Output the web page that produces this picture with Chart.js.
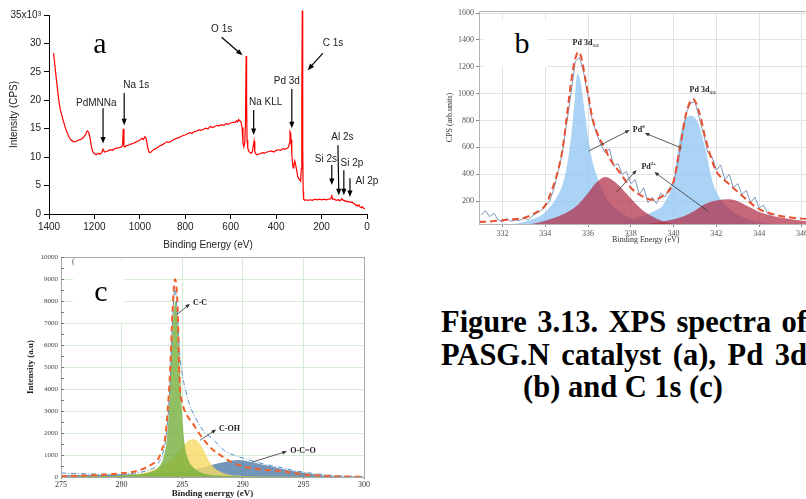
<!DOCTYPE html>
<html>
<head>
<meta charset="utf-8">
<script src="https://cdn.jsdelivr.net/npm/chart.js@4.4.0/dist/chart.umd.min.js"></script>
<style>
html, body { margin:0; padding:0; width:806px; height:499px; overflow:hidden; background:#fff; }
canvas { position:absolute; }
.big { position:absolute; width:40px; text-align:center; font-family:'Liberation Serif', serif; font-size:30px; line-height:30px; color:#000; }
.box { position:absolute; background:#fff; }
.cap { position:absolute; left:441px; width:366px; font:bold 30.5px 'Liberation Serif', serif; line-height:33px; white-space:nowrap; color:#000; }
.just { text-align:justify; text-align-last:justify; }
.mid { text-align:center; text-align-last:center; left:406px; width:434px; }
</style>
</head>
<body>
<canvas id="chartA" width="392" height="255" style="left:0;top:0"></canvas>
<canvas id="chartB" width="390" height="255" style="left:440px;top:0"></canvas>
<canvas id="chartC" width="380" height="249" style="left:0;top:250px"></canvas>

<div class="big" style="left:80px;top:28px">a</div>
<div class="box" style="left:483px;top:20px;width:64px;height:47px"></div>
<div class="big" style="left:502px;top:28px">b</div>
<div class="box" style="left:73px;top:260px;width:52px;height:63px"></div>
<div style="position:absolute;left:72px;top:257px;font:8px 'Liberation Serif',serif;color:#555">(</div>
<div class="big" style="left:81px;top:276px">c</div>

<div class="cap just" style="top:306px">Figure 3.13. XPS spectra of</div>
<div class="cap just" style="top:339px">PASG.N catalyst (a), Pd 3d</div>
<div class="cap mid" style="top:371px">(b) and C 1s (c)</div>

<script>
// ---- (a) survey spectrum, counts in thousands ----
var surveyEnergy = [1380,1375,1370,1365,1360,1355,1350,1345,1340,1335,1330,1325,1320,1315,1310,1305,1300,1290,1280,1270,1260,1250,1240,1232,1226,1220,1214,1208,1200,1192,1184,1176,1168,1162,1156,1148,1140,1130,1120,1110,1100,1090,1080,1076,1073,1070,1066,1060,1050,1040,1030,1020,1010,1000,992,985,978,972,966,960,954,946,940,930,920,910,900,890,880,870,860,850,840,830,820,810,800,790,780,770,760,750,740,730,720,710,700,690,680,670,660,650,640,630,620,610,600,590,580,575,570,565,560,555,550,546,542,538,535,532,530,528,525,520,515,510,505,500,497,494,490,485,480,470,460,450,440,430,420,410,400,390,380,370,360,350,345,341,339,336,334,331,328,325,322,318,315,310,305,300,296,292,289,287,285,283,281,279,275,270,260,250,240,230,220,210,200,190,180,170,160,155,152,145,135,125,120,115,110,105,100,95,90,85,80,75,70,65,60,55,50,45,40,35,30,25,20,15,10];
var surveyCounts = [28.3,26.5,24.6,22.8,21.0,19.5,18.3,17.6,16.8,16.1,15.4,14.8,14.3,13.8,13.4,13.1,12.9,12.7,12.8,13.0,13.1,13.4,13.9,14.6,14.4,13.5,12.0,11.0,10.6,10.4,10.7,10.5,10.8,11.4,10.9,11.0,11.1,11.3,11.2,11.5,11.6,11.7,11.8,12.2,15.0,11.9,11.8,12.0,12.1,12.3,12.4,12.6,12.8,13.0,13.3,13.1,13.6,13.2,11.8,10.9,10.8,11.1,11.3,11.5,11.8,12.0,12.2,12.5,12.7,12.6,12.9,13.1,13.3,13.4,13.6,13.8,13.9,14.1,14.3,14.2,14.5,14.6,14.8,14.7,14.9,15.1,15.0,15.4,15.2,15.4,15.6,15.5,15.7,15.6,15.9,15.8,16.0,16.1,16.1,16.4,16.2,16.6,16.4,16.2,15.2,12.5,11.8,12.6,16.0,27.8,20.0,13.0,11.6,11.0,10.8,10.7,10.9,12.2,12.8,11.0,10.6,10.4,10.5,10.6,10.8,10.7,10.9,11.0,11.1,10.9,11.2,11.3,11.2,11.5,11.4,11.6,11.8,12.5,14.5,14.2,13.0,10.5,9.0,8.1,8.5,9.3,8.8,7.8,6.6,6.2,6.0,5.8,8.0,20.0,35.8,12.0,4.0,2.6,2.4,2.5,2.4,2.5,2.4,2.6,2.5,2.6,2.5,2.6,2.5,2.6,2.7,3.2,2.6,2.6,2.4,2.5,2.3,2.5,2.7,2.4,2.4,2.2,2.3,2.1,2.2,2.1,2.0,2.1,1.9,1.8,1.5,1.6,1.4,1.6,1.2,1.1,1.3,1.0,0.9];

// ---- (b) Pd 3d region ----
var pdTicksX = [332,334,336,338,340,342,344,346];
var pdTicksY = [200,400,600,800,1000,1200,1400,1600];
var pdRawE = [331.0,331.2,331.4,331.6,331.8,332.0,332.2,332.4,332.6,332.8,333.0,333.2,333.4,333.6,333.8,334.0,334.2,334.4,334.6,334.8,335.0,335.2,335.4,335.6,335.8,336.0,336.2,336.4,336.6,336.8,337.0,337.2,337.4,337.6,337.8,338.0,338.2,338.4,338.6,338.8,339.0,339.2,339.4,339.6,339.8,340.0,340.2,340.4,340.6,340.8,341.0,341.2,341.4,341.6,341.8,342.0,342.2,342.4,342.6,342.8,343.0,343.2,343.4,343.6,343.8,344.0,344.2,344.4,344.6];
var pdRawV = [95,130,85,110,60,45,70,50,60,55,75,60,90,110,130,160,200,290,420,560,780,1000,1240,1270,1150,980,800,700,620,560,590,460,480,400,420,330,360,250,300,190,230,180,260,230,300,330,480,680,860,930,940,820,700,560,530,430,470,360,400,300,330,250,280,190,230,150,170,110,90];
var pdEnvE = [330.9,331.5,332,332.5,333,333.5,334,334.3,334.6,334.8,335,335.2,335.4,335.55,335.7,335.85,336,336.2,336.5,336.8,337,337.5,338,338.5,339,339.5,340,340.3,340.6,340.9,341.2,341.5,341.8,342,342.5,343,343.5,344,344.5,345,346,346.5];
var pdEnvV = [45,50,58,65,75,110,170,280,430,580,820,1080,1260,1310,1260,1130,1000,820,680,590,520,410,300,240,210,240,350,600,860,960,860,660,500,420,340,270,200,140,110,90,70,65];
var pd0aE = [331,332,332.5,333,333.5,334,334.5,334.8,335,335.2,335.35,335.5,335.65,335.8,336,336.2,336.5,336.8,337,337.5,338,339,340,342,346.5];
var pd0aV = [12,20,30,45,70,120,220,320,450,670,910,1150,1090,920,680,500,350,240,190,120,75,35,18,8,3];
var pd0bE = [331,334,336,337,338,338.5,339,339.5,339.8,340,340.2,340.4,340.6,340.8,341.0,341.2,341.5,341.8,342.1,342.5,343,343.5,344,345,346.5];
var pd0bV = [5,12,25,35,60,85,120,170,260,360,580,760,820,835,820,760,580,360,240,160,100,65,45,25,12];
var pd2aE = [331,332,333,334,334.5,335,335.5,336,336.4,336.8,337.2,337.6,338,338.5,339,339.5,340,341,342,346.5];
var pd2aV = [5,10,20,55,80,115,170,260,340,380,350,290,220,140,85,50,30,15,8,2];
var pd2bE = [338,339,339.7,340.5,341,341.5,342,342.6,343,343.5,344,344.5,345,346,346.5];
var pd2bV = [15,35,55,90,130,180,205,215,200,160,120,95,78,55,48];

// ---- (c) C 1s region ----
var cRawE = [275,276,277,278,279,280,281,282,283,283.5,283.8,284,284.2,284.4,284.6,284.8,285,285.3,285.6,286,286.5,287,287.5,288,288.5,289,290,291,292,293,294,295,296,297,298,299,300];
var cRawV = [180,160,150,130,120,130,170,280,600,1300,2500,4300,7000,8600,7400,5600,4700,3900,3300,2800,2300,1950,1750,1450,1200,1050,860,700,560,450,320,220,150,90,50,30,20];
var cEnvE = [275,276,277,278,279,280,281,281.5,282,282.5,283,283.3,283.6,283.8,284,284.2,284.4,284.6,284.8,285,285.4,285.8,286.5,287,287.5,288,288.5,289,290,291,292,293,294,295,296,297,298,300];
var cEnvV = [40,55,70,90,120,170,240,315,420,580,800,1200,1800,3000,4800,7500,9000,8000,4200,3400,2800,2500,1900,1550,1250,1050,860,700,480,380,320,280,200,120,75,45,25,10];
var ccE = [275,278,280,281,282,282.5,283,283.4,283.7,283.9,284.1,284.3,284.45,284.6,284.8,285,285.2,285.5,286,286.5,287,288,290,300];
var ccV = [20,40,70,100,170,250,420,800,1600,3000,5500,7500,8000,7300,5000,2800,1500,800,400,220,130,70,30,5];
var cohE = [275,279,280,281,282,283,284,284.5,285,285.5,285.9,286.3,286.7,287,287.5,288,288.5,289,290,292,300];
var cohV = [0,30,60,110,220,420,750,1000,1350,1650,1720,1620,1300,950,500,280,160,90,50,15,0];
var ocoE = [275,278,280,282,283,284,285,286,287,288,289,289.6,290.2,291,292,293,294,295,296,297,298,300];
var ocoV = [80,100,120,150,180,230,290,360,480,620,740,770,740,650,520,400,280,190,110,55,25,5];

Chart.defaults.animation = false;
Chart.defaults.responsive = false;
Chart.defaults.devicePixelRatio = 1;
Chart.defaults.plugins.legend.display = false;
Chart.defaults.plugins.tooltip.enabled = false;
Chart.defaults.elements.point.radius = 0;

function pts(xs, ys) {
    return xs.map(function (x, i) { return { x: x, y: ys[i] }; });
}

function plain(v) { return String(v); }

function drawArrow(ctx, x1, y1, x2, y2, head, color, lw) {
    var ang = Math.atan2(y2 - y1, x2 - x1);
    ctx.strokeStyle = color;
    ctx.fillStyle = color;
    ctx.lineWidth = lw;
    ctx.beginPath();
    ctx.moveTo(x1, y1);
    ctx.lineTo(x2 - Math.cos(ang) * head * 0.8, y2 - Math.sin(ang) * head * 0.8);
    ctx.stroke();
    ctx.beginPath();
    ctx.moveTo(x2, y2);
    ctx.lineTo(x2 - head * Math.cos(ang - 0.38), y2 - head * Math.sin(ang - 0.38));
    ctx.lineTo(x2 - head * Math.cos(ang + 0.38), y2 - head * Math.sin(ang + 0.38));
    ctx.closePath();
    ctx.fill();
}

// peak labels and arrows, given in data units
var notesPlugin = {
    id: 'notes',
    afterDatasetsDraw: function (chart, args, o) {
        var ctx = chart.ctx, sx = chart.scales.x, sy = chart.scales.y;
        ctx.save();
        (o.arrows || []).forEach(function (a) {
            drawArrow(ctx, sx.getPixelForValue(a[0]), sy.getPixelForValue(a[1]),
                sx.getPixelForValue(a[2]), sy.getPixelForValue(a[3]), o.head, o.color, o.width);
        });
        ctx.textBaseline = 'middle';
        ctx.textAlign = 'left';
        (o.labels || []).forEach(function (l) {
            var x = sx.getPixelForValue(l.x), y = sy.getPixelForValue(l.y);
            ctx.font = o.font;
            var w1 = ctx.measureText(l.text).width, w2 = 0;
            var extra = l.sub || l.sup;
            if (extra) { ctx.font = o.smallFont; w2 = ctx.measureText(extra).width; }
            var left = x - (w1 + w2) / 2;
            ctx.fillStyle = o.textColor;
            ctx.font = o.font;
            ctx.fillText(l.text, left, y);
            if (extra) {
                ctx.font = o.smallFont;
                ctx.fillText(extra, left + w1, l.sub ? y + 3 : y - 3);
            }
        });
        ctx.restore();
    }
};

// plot frame and small minor ticks on y
var framePlugin = {
    id: 'frame',
    afterDraw: function (chart, args, o) {
        var ctx = chart.ctx, a = chart.chartArea, s = chart.scales.y;
        ctx.save();
        if (o.color) {
            ctx.strokeStyle = o.color;
            ctx.lineWidth = 1;
            ctx.strokeRect(Math.round(a.left) + 0.5, Math.round(a.top) + 0.5, a.right - a.left, a.bottom - a.top);
        }
        if (o.minorStep) {
            ctx.strokeStyle = o.tickColor;
            ctx.lineWidth = 1;
            ctx.beginPath();
            for (var v = o.minorStep; v <= s.max; v += o.minorStep) {
                var p = Math.round(s.getPixelForValue(v)) + 0.5;
                ctx.moveTo(a.left, p);
                ctx.lineTo(a.left + o.minorLen, p);
            }
            ctx.stroke();
        }
        ctx.restore();
    }
};

function CreateSurvey() {
    var sans = 'Liberation Sans';
    new Chart(document.getElementById('chartA'), {
        type: 'line',
        data: { datasets: [{ data: pts(surveyEnergy, surveyCounts), borderColor: '#ff0000', borderWidth: 1.2, tension: 0, clip: 10 }] },
        options: {
            layout: { padding: { left: 0, right: 25, top: 15, bottom: 0 } },
            scales: {
                x: {
                    type: 'linear', reverse: true, min: 0, max: 1400,
                    ticks: { stepSize: 200, color: '#222', font: { family: sans, size: 10 }, padding: 2, maxRotation: 0, callback: plain },
                    grid: { drawOnChartArea: false, color: '#000', tickLength: 5 },
                    border: { color: '#000' },
                    title: { display: true, text: 'Binding Energy (eV)', color: '#222', font: { family: sans, size: 10 }, padding: { top: 0, bottom: 4 } },
                    afterFit: function (s) { s.height = 41; }
                },
                y: {
                    min: 0, max: 35,
                    ticks: { stepSize: 5, color: '#222', font: { family: sans, size: 10 }, padding: 3,
                        callback: function (v) { return v === 35 ? '35x10\u00B3' : String(v); } },
                    grid: { drawOnChartArea: false, color: '#000', tickLength: 5 },
                    border: { color: '#000' },
                    title: { display: true, text: 'Intensity (CPS)', color: '#222', font: { family: sans, size: 10 }, padding: { top: 8, bottom: 0 } },
                    afterFit: function (s) { s.width = 49; }
                }
            },
            plugins: {
                notes: {
                    font: '10px "Liberation Sans"', textColor: '#222', color: '#000', head: 7, width: 1.2,
                    labels: [
                        { text: 'PdMNNa', x: 1192, y: 19.5 }, { text: 'Na 1s', x: 1016, y: 22.7 },
                        { text: 'O 1s', x: 640, y: 32.5 }, { text: 'C 1s', x: 150, y: 30.0 },
                        { text: 'Pd 3d', x: 353, y: 23.4 }, { text: 'Na KLL', x: 446, y: 19.7 },
                        { text: 'Al 2s', x: 108, y: 13.5 }, { text: 'Si 2s', x: 181, y: 9.7 },
                        { text: 'Si 2p', x: 66, y: 9.0 }, { text: 'Al 2p', x: 0, y: 5.8 }
                    ],
                    arrows: [
                        [1162, 18.6, 1162, 12.4], [1069, 21.3, 1069, 15.6], [640, 31.1, 548, 27.9],
                        [194, 28.3, 261, 25.3], [331, 22.0, 331, 15.1], [499, 18.3, 499, 13.9],
                        [128, 12.1, 124, 3.3], [155, 8.6, 155, 5.1], [102, 7.7, 102, 3.3], [75, 6.3, 75, 3.0]
                    ]
                }
            }
        },
        plugins: [notesPlugin]
    });
}

function CreatePdGraph() {
    var serif = 'Liberation Serif';
    new Chart(document.getElementById('chartB'), {
        type: 'line',
        data: {
            datasets: [
                { data: pts(pdEnvE, pdEnvV), borderColor: '#e8502f', borderWidth: 2, borderDash: [7, 4], cubicInterpolationMode: 'monotone', fill: false },
                { data: pts(pdRawE, pdRawV), borderColor: '#7f97bb', borderWidth: 1, tension: 0, fill: false },
                { data: pts(pd2aE, pd2aV), borderColor: 'rgba(0,0,0,0)', backgroundColor: 'rgba(178,45,70,0.72)', cubicInterpolationMode: 'monotone', fill: 'origin' },
                { data: pts(pd2bE, pd2bV), borderColor: 'rgba(0,0,0,0)', backgroundColor: 'rgba(178,45,70,0.72)', cubicInterpolationMode: 'monotone', fill: 'origin' },
                { data: pts(pd0aE, pd0aV), borderColor: 'rgba(0,0,0,0)', backgroundColor: 'rgba(150,200,242,0.8)', cubicInterpolationMode: 'monotone', fill: 'origin' },
                { data: pts(pd0bE, pd0bV), borderColor: 'rgba(0,0,0,0)', backgroundColor: 'rgba(150,200,242,0.8)', cubicInterpolationMode: 'monotone', fill: 'origin' }
            ]
        },
        options: {
            layout: { padding: { left: 0, right: 17.4, top: 11, bottom: 6 } },
            scales: {
                x: {
                    type: 'linear', min: 330.9, max: 346.5,
                    afterBuildTicks: function (s) { s.ticks = pdTicksX.map(function (v) { return { value: v }; }); },
                    ticks: { color: '#555', font: { family: serif, size: 8 }, padding: 2, maxRotation: 0, callback: plain },
                    grid: { color: '#e2e2e2', tickColor: '#888', tickLength: 3 },
                    border: { color: '#999' },
                    title: { display: true, text: 'Binding Energy (eV)', color: '#333', font: { family: serif, size: 8 }, padding: { top: 0, bottom: 4 } },
                    afterFit: function (s) { s.height = 25; }
                },
                y: {
                    min: 30, max: 1615,
                    afterBuildTicks: function (s) { s.ticks = pdTicksY.map(function (v) { return { value: v }; }); },
                    ticks: { color: '#555', font: { family: serif, size: 8 }, padding: 2, callback: plain },
                    grid: { color: '#e2e2e2', tickColor: '#888', tickLength: 3 },
                    border: { color: '#999' },
                    title: { display: true, text: 'CPS (arb.units)', color: '#333', font: { family: serif, size: 8 }, padding: { top: 5, bottom: 0 } },
                    afterFit: function (s) { s.width = 39; }
                }
            },
            plugins: {
                frame: { color: '#b5b5b5' },
                notes: {
                    font: 'bold 8px "Liberation Serif"', smallFont: 'bold 5px "Liberation Serif"', textColor: '#222',
                    color: '#333', head: 5, width: 0.8,
                    labels: [
                        { text: 'Pd 3d', sub: '5/2', x: 335.89, y: 1376 },
                        { text: 'Pd 3d', sub: '3/2', x: 341.36, y: 1027 },
                        { text: 'Pd', sup: '0', x: 338.37, y: 729 },
                        { text: 'Pd', sup: '2+', x: 338.84, y: 454 }
                    ],
                    arrows: [
                        [336.03, 573, 337.95, 729], [340.38, 595, 338.65, 707],
                        [337.34, 268, 338.27, 432], [341.6, 126, 339.1, 417]
                    ]
                }
            }
        },
        plugins: [notesPlugin, framePlugin]
    });
}

function CreateCarbonGraph() {
    var serif = 'Liberation Serif';
    new Chart(document.getElementById('chartC'), {
        type: 'line',
        data: {
            datasets: [
                { data: pts(cEnvE, cEnvV), borderColor: '#f0602a', borderWidth: 2, borderDash: [6, 4], cubicInterpolationMode: 'monotone', fill: false },
                { data: pts(cRawE, cRawV), borderColor: '#4f8fc9', borderWidth: 1, borderDash: [5, 2, 1, 2], cubicInterpolationMode: 'monotone', fill: false },
                { data: pts(ccE, ccV), borderColor: 'rgba(0,0,0,0)', backgroundColor: 'rgba(118,175,60,0.8)', cubicInterpolationMode: 'monotone', fill: 'origin' },
                { data: pts(cohE, cohV), borderColor: 'rgba(0,0,0,0)', backgroundColor: 'rgba(246,218,100,0.8)', cubicInterpolationMode: 'monotone', fill: 'origin' },
                { data: pts(ocoE, ocoV), borderColor: 'rgba(0,0,0,0)', backgroundColor: 'rgba(60,110,160,0.72)', cubicInterpolationMode: 'monotone', fill: 'origin' }
            ]
        },
        options: {
            layout: { padding: { left: 0, right: 16, top: 5, bottom: 0 } },
            scales: {
                x: {
                    type: 'linear', min: 275, max: 300,
                    ticks: { stepSize: 5, color: '#333', font: { family: serif, size: 8 }, padding: 1, maxRotation: 0, callback: plain },
                    grid: { color: '#d6ebd3', tickColor: '#888', tickLength: 2 },
                    border: { color: '#999' },
                    title: { display: true, text: 'Binding enerrgy (eV)', color: '#222', font: { family: serif, size: 9, weight: 'bold' }, padding: 0 },
                    afterFit: function (s) { s.height = 22; }
                },
                y: {
                    min: 0, max: 10000,
                    ticks: { stepSize: 1000, color: '#444', font: { family: serif, size: 7 }, padding: 3, callback: plain },
                    grid: { color: '#d6ebd3', drawTicks: false },
                    border: { color: '#999' },
                    title: { display: true, text: 'Intensity (a.u)', color: '#222', font: { family: serif, size: 9, weight: 'bold' }, padding: { top: 25, bottom: 0 } },
                    afterFit: function (s) { s.width = 61; }
                }
            },
            plugins: {
                frame: { color: '#aaaaaa', minorStep: 500, minorLen: 3, tickColor: '#777' },
                notes: {
                    font: 'bold 8px "Liberation Serif"', textColor: '#222', color: '#333', head: 5, width: 0.8,
                    labels: [
                        { text: 'C-C', x: 286.47, y: 7930 },
                        { text: 'C-OH', x: 288.9, y: 2200 },
                        { text: 'O-C=O', x: 294.97, y: 1170 }
                    ],
                    arrows: [
                        [284.57, 7390, 285.64, 7880], [286.47, 1670, 287.8, 2160], [290.76, 675, 293.65, 1170]
                    ]
                }
            }
        },
        plugins: [notesPlugin, framePlugin]
    });
}

CreateSurvey();
CreatePdGraph();
CreateCarbonGraph();
</script>
</body>
</html>
